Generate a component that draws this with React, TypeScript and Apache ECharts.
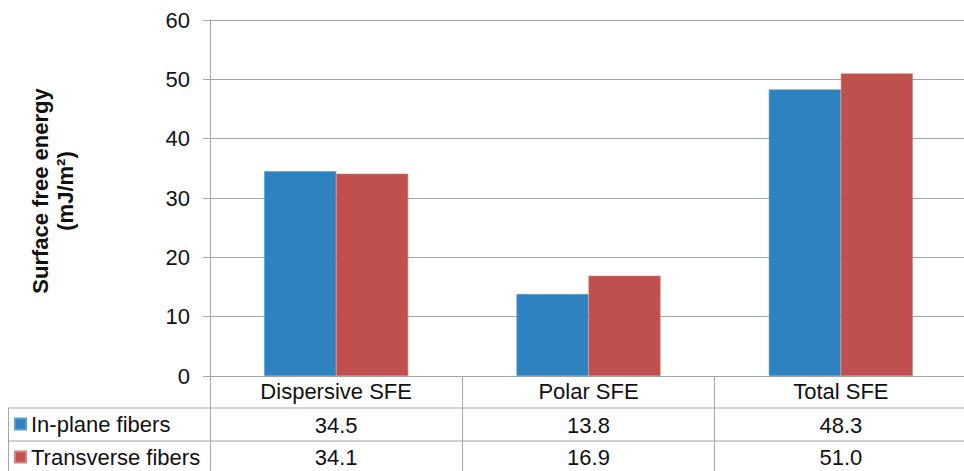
import React, { useEffect, useRef } from "react";
import * as echarts from "echarts";

const categories = ["Dispersive SFE", "Polar SFE", "Total SFE"];
const seriesNames = ["In-plane fibers", "Transverse fibers"];
const inPlane = [34.5, 13.8, 48.3];
const transverse = [34.1, 16.9, 51.0];
const yTicks = { min: 0, max: 60, interval: 10 };
const yTitle = "Surface free energy\n(mJ/m\u00B2)";

const BLUE = "#2F82C0";
const RED = "#C0504D";
const LINE = "#A6A6A6";
const FONT = "'Liberation Sans', Arial, sans-serif";

export default function App() {
  const ref = useRef<HTMLDivElement>(null);

  useEffect(() => {
    if (!ref.current) return;
    const chart = echarts.init(ref.current, undefined, { renderer: "svg" });

    const gridLeft = 210;
    const gridTop = 20;
    const gridBottom = 95;
    const H = 471;
    const axisY = H - gridBottom;

    const valueAxis = (vals: number[], offset: number) => ({
      type: "category" as const,
      gridIndex: 0,
      position: "bottom" as const,
      offset,
      data: vals.map((v) => v.toFixed(1)),
      axisLine: { show: false },
      axisTick: { show: false },
      axisLabel: {
        interval: 0,
        margin: 14,
        verticalAlign: "middle" as const,
        fontSize: 22,
        fontFamily: FONT,
        color: "#111",
      },
    });

    chart.setOption({
      animation: false,
      backgroundColor: "#fff",
      textStyle: { fontFamily: FONT },
      grid: {
        left: gridLeft,
        width: 757,
        top: gridTop,
        bottom: gridBottom,
        containLabel: false,
        outerBoundsMode: "none",
      },
      legend: {
        orient: "vertical",
        left: 14,
        top: 413,
        padding: 0,
        itemGap: 11,
        itemWidth: 11,
        itemHeight: 11,
        itemTextGap: 7,
        icon: "rect",
        selectedMode: false,
        data: seriesNames,
        textStyle: { fontSize: 22, lineHeight: 22, color: "#111", fontFamily: FONT },
      },
      xAxis: [
        {
          type: "category",
          data: categories,
          axisLine: { show: true, lineStyle: { color: LINE, width: 1 } },
          axisTick: {
            show: true,
            interval: 0,
            length: 100,
            lineStyle: { color: LINE, width: 1 },
          },
          axisLabel: {
            interval: 0,
            margin: 15,
            verticalAlign: "middle",
            fontSize: 22,
            fontFamily: FONT,
            color: "#111",
          },
        },
        valueAxis(inPlane, 35),
        valueAxis(transverse, 67),
      ],
      yAxis: {
        type: "value",
        min: yTicks.min,
        max: yTicks.max,
        interval: yTicks.interval,
        axisLine: { show: true, lineStyle: { color: LINE, width: 1 } },
        axisTick: { show: true, length: 7, lineStyle: { color: LINE, width: 1 } },
        splitLine: { show: true, lineStyle: { color: LINE, width: 1 } },
        axisLabel: { margin: 20, fontSize: 22, fontFamily: FONT, color: "#111" },
      },
      series: [
        {
          name: seriesNames[0],
          type: "bar",
          data: inPlane,
          barWidth: 72,
          barGap: "0%",
          itemStyle: { color: BLUE, borderColor: "#5A9BD0", borderWidth: 0.5 },
        },
        {
          name: seriesNames[1],
          type: "bar",
          data: transverse,
          barWidth: 72,
          barGap: "0%",
          itemStyle: { color: RED, borderColor: "#D8807D", borderWidth: 0.5 },
        },
      ],
      graphic: [
        // data table rules
        {
          type: "line",
          shape: { x1: 8, y1: axisY + 32, x2: 964, y2: axisY + 32 },
          style: { stroke: LINE, lineWidth: 1 },
        },
        {
          type: "line",
          shape: { x1: 8, y1: axisY + 65, x2: 964, y2: axisY + 65 },
          style: { stroke: LINE, lineWidth: 1 },
        },
        {
          type: "line",
          shape: { x1: 8.5, y1: axisY + 32, x2: 8.5, y2: H },
          style: { stroke: LINE, lineWidth: 1 },
        },
        // value axis title
        {
          type: "text",
          x: 53,
          y: 191,
          rotation: Math.PI / 2,
          style: {
            text: yTitle,
            align: "center",
            verticalAlign: "middle",
            fontSize: 22,
            fontWeight: "bold",
            lineHeight: 25,
            fontFamily: FONT,
            fill: "#111",
          },
        },
      ],
    });

    return () => chart.dispose();
  }, []);

  return (
    <div
      ref={ref}
      style={{ position: "fixed", left: 0, top: 0, width: 964, height: 471 }}
    />
  );
}
